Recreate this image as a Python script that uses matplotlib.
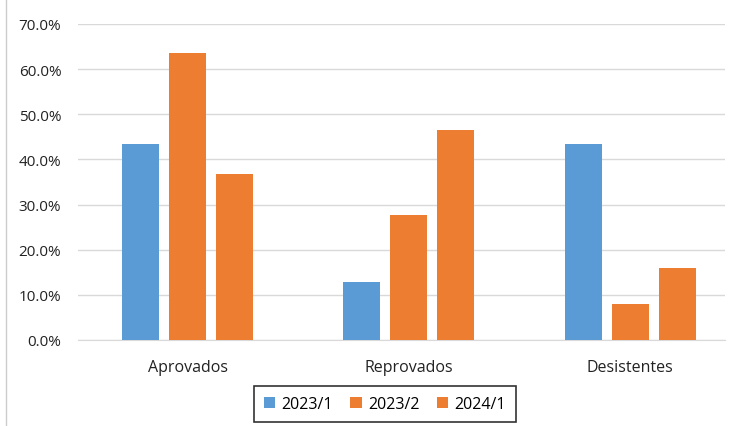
import numpy as np
import matplotlib.pyplot as plt
from matplotlib.lines import Line2D

categories = ["Aprovados", "Reprovados", "Desistentes"]
series = ["2023/1", "2023/2", "2024/1"]
v2023_1 = [43.4, 12.9, 43.4]
v2023_2 = [63.6, 27.8, 8.0]
v2024_1 = [36.8, 46.6, 15.9]
colors = ["#5B9BD5", "#ED7D31", "#ED7D31"]

plt.rcParams['font.family'] = ['Open Sans', 'DejaVu Sans']

fig = plt.figure(figsize=(7.35, 4.27), dpi=100)
ax = fig.add_axes([78/735, 1-341/427, (725-78)/735, (341-25)/427])

x = np.arange(len(categories))
w = 0.167
step = 0.2125
for i, vals in enumerate([v2023_1, v2023_2, v2024_1]):
    ax.bar(x + (i-1)*step, vals, width=w, color=colors[i], label=series[i], zorder=3)

ax.set_xlim(-0.495, 2.429)
ax.set_ylim(0, 70)
ax.set_yticks(np.arange(0, 71, 10))
ax.set_yticklabels([f"{v:.1f}%" for v in np.arange(0, 71, 10)])
ax.set_xticks(x)
ax.set_xticklabels(categories)
ax.tick_params(axis='both', length=0, labelsize=11, colors="#222222")
ax.tick_params(axis='x', pad=14, labelsize=11.5)
ax.tick_params(axis='y', pad=12)
ax.grid(axis='y', color="#d9d9d9", linewidth=1, zorder=0)
for s in ["top", "right", "left"]:
    ax.spines[s].set_visible(False)
ax.spines["bottom"].set_color("#d9d9d9")

leg = fig.legend(loc="center", bbox_to_anchor=(385/735, 1-405/427), ncol=3,
                 fontsize=11.5, frameon=True, fancybox=False, handlelength=0.7,
                 handleheight=0.7, handletextpad=0.4, columnspacing=1.1,
                 borderpad=0.6)
leg.get_frame().set_edgecolor("black")
leg.get_frame().set_linewidth(1.2)

fig.add_artist(Line2D([6/735, 6/735], [0, 1], color="#cccccc", linewidth=1))

fig.savefig("out.png", dpi=100)
